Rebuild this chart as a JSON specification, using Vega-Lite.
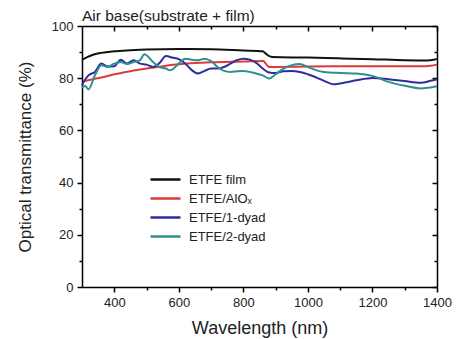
{
  "$schema": "https://vega.github.io/schema/vega-lite/v6.json",
  "width": 355,
  "height": 261,
  "autosize": "none",
  "padding": {"left": 82, "top": 26, "right": 19, "bottom": 52},
  "background": "white",
  "config": {"view": {"stroke": null}, "font": "Liberation Sans"},
  "title": {"text": "Air base(substrate + film)", "anchor": "start", "frame": "group", "font": "Liberation Sans", "fontSize": 15.5, "fontWeight": "normal", "offset": -4, "color": "#222"},
  "data": {"values": [
    {"s":"ETFE film","w":300,"t":87.1},{"s":"ETFE film","w":315,"t":88.0},{"s":"ETFE film","w":330,"t":88.8},{"s":"ETFE film","w":360,"t":89.7},{"s":"ETFE film","w":400,"t":90.3},{"s":"ETFE film","w":450,"t":90.7},{"s":"ETFE film","w":500,"t":91.0},{"s":"ETFE film","w":600,"t":91.2},{"s":"ETFE film","w":700,"t":91.1},{"s":"ETFE film","w":800,"t":90.6},{"s":"ETFE film","w":860,"t":90.3},{"s":"ETFE film","w":868,"t":89.6},{"s":"ETFE film","w":878,"t":88.6},{"s":"ETFE film","w":890,"t":88.1},{"s":"ETFE film","w":1000,"t":87.9},{"s":"ETFE film","w":1100,"t":87.6},{"s":"ETFE film","w":1200,"t":87.3},{"s":"ETFE film","w":1300,"t":86.9},{"s":"ETFE film","w":1370,"t":86.8},{"s":"ETFE film","w":1390,"t":87.1},{"s":"ETFE film","w":1400,"t":87.4},
    {"s":"ETFE/AlOₓ","w":305,"t":78.8},{"s":"ETFE/AlOₓ","w":330,"t":79.5},{"s":"ETFE/AlOₓ","w":360,"t":80.3},{"s":"ETFE/AlOₓ","w":400,"t":81.5},{"s":"ETFE/AlOₓ","w":450,"t":82.7},{"s":"ETFE/AlOₓ","w":500,"t":83.7},{"s":"ETFE/AlOₓ","w":550,"t":84.6},{"s":"ETFE/AlOₓ","w":600,"t":85.3},{"s":"ETFE/AlOₓ","w":650,"t":85.8},{"s":"ETFE/AlOₓ","w":700,"t":86.1},{"s":"ETFE/AlOₓ","w":800,"t":86.4},{"s":"ETFE/AlOₓ","w":862,"t":86.6},{"s":"ETFE/AlOₓ","w":870,"t":85.5},{"s":"ETFE/AlOₓ","w":880,"t":84.3},{"s":"ETFE/AlOₓ","w":1000,"t":84.5},{"s":"ETFE/AlOₓ","w":1200,"t":84.6},{"s":"ETFE/AlOₓ","w":1350,"t":84.6},{"s":"ETFE/AlOₓ","w":1380,"t":84.8},{"s":"ETFE/AlOₓ","w":1400,"t":85.2},
    {"s":"ETFE/1-dyad","w":300,"t":77.3},{"s":"ETFE/1-dyad","w":310,"t":79.5},{"s":"ETFE/1-dyad","w":320,"t":81.1},{"s":"ETFE/1-dyad","w":340,"t":82.4},{"s":"ETFE/1-dyad","w":360,"t":85.6},{"s":"ETFE/1-dyad","w":380,"t":84.5},{"s":"ETFE/1-dyad","w":400,"t":84.6},{"s":"ETFE/1-dyad","w":420,"t":87.1},{"s":"ETFE/1-dyad","w":440,"t":85.6},{"s":"ETFE/1-dyad","w":460,"t":86.9},{"s":"ETFE/1-dyad","w":480,"t":85.6},{"s":"ETFE/1-dyad","w":500,"t":85.2},{"s":"ETFE/1-dyad","w":520,"t":84.3},{"s":"ETFE/1-dyad","w":540,"t":85.8},{"s":"ETFE/1-dyad","w":560,"t":88.5},{"s":"ETFE/1-dyad","w":580,"t":87.9},{"s":"ETFE/1-dyad","w":600,"t":87.3},{"s":"ETFE/1-dyad","w":620,"t":85.6},{"s":"ETFE/1-dyad","w":640,"t":83.1},{"s":"ETFE/1-dyad","w":660,"t":81.8},{"s":"ETFE/1-dyad","w":680,"t":82.8},{"s":"ETFE/1-dyad","w":700,"t":83.7},{"s":"ETFE/1-dyad","w":720,"t":83.7},{"s":"ETFE/1-dyad","w":740,"t":84.3},{"s":"ETFE/1-dyad","w":760,"t":85.6},{"s":"ETFE/1-dyad","w":780,"t":86.9},{"s":"ETFE/1-dyad","w":800,"t":87.5},{"s":"ETFE/1-dyad","w":820,"t":87.1},{"s":"ETFE/1-dyad","w":840,"t":85.9},{"s":"ETFE/1-dyad","w":860,"t":83.7},{"s":"ETFE/1-dyad","w":880,"t":82.2},{"s":"ETFE/1-dyad","w":900,"t":82.0},{"s":"ETFE/1-dyad","w":925,"t":82.7},{"s":"ETFE/1-dyad","w":950,"t":82.8},{"s":"ETFE/1-dyad","w":975,"t":82.4},{"s":"ETFE/1-dyad","w":1000,"t":81.5},{"s":"ETFE/1-dyad","w":1050,"t":79.0},{"s":"ETFE/1-dyad","w":1078,"t":77.7},{"s":"ETFE/1-dyad","w":1100,"t":78.0},{"s":"ETFE/1-dyad","w":1150,"t":79.2},{"s":"ETFE/1-dyad","w":1200,"t":80.1},{"s":"ETFE/1-dyad","w":1250,"t":79.6},{"s":"ETFE/1-dyad","w":1300,"t":78.9},{"s":"ETFE/1-dyad","w":1350,"t":78.3},{"s":"ETFE/1-dyad","w":1380,"t":79.0},{"s":"ETFE/1-dyad","w":1400,"t":79.6},
    {"s":"ETFE/2-dyad","w":300,"t":76.4},{"s":"ETFE/2-dyad","w":310,"t":77.0},{"s":"ETFE/2-dyad","w":320,"t":75.7},{"s":"ETFE/2-dyad","w":340,"t":81.1},{"s":"ETFE/2-dyad","w":360,"t":85.0},{"s":"ETFE/2-dyad","w":380,"t":84.3},{"s":"ETFE/2-dyad","w":400,"t":85.6},{"s":"ETFE/2-dyad","w":420,"t":86.2},{"s":"ETFE/2-dyad","w":440,"t":85.4},{"s":"ETFE/2-dyad","w":460,"t":86.2},{"s":"ETFE/2-dyad","w":480,"t":86.9},{"s":"ETFE/2-dyad","w":493,"t":89.2},{"s":"ETFE/2-dyad","w":500,"t":88.8},{"s":"ETFE/2-dyad","w":520,"t":86.2},{"s":"ETFE/2-dyad","w":540,"t":84.3},{"s":"ETFE/2-dyad","w":560,"t":83.7},{"s":"ETFE/2-dyad","w":573,"t":83.0},{"s":"ETFE/2-dyad","w":600,"t":85.6},{"s":"ETFE/2-dyad","w":620,"t":87.5},{"s":"ETFE/2-dyad","w":640,"t":87.1},{"s":"ETFE/2-dyad","w":660,"t":86.9},{"s":"ETFE/2-dyad","w":680,"t":87.5},{"s":"ETFE/2-dyad","w":700,"t":86.6},{"s":"ETFE/2-dyad","w":720,"t":84.3},{"s":"ETFE/2-dyad","w":740,"t":82.8},{"s":"ETFE/2-dyad","w":760,"t":82.4},{"s":"ETFE/2-dyad","w":780,"t":82.7},{"s":"ETFE/2-dyad","w":800,"t":82.8},{"s":"ETFE/2-dyad","w":820,"t":82.4},{"s":"ETFE/2-dyad","w":840,"t":81.8},{"s":"ETFE/2-dyad","w":860,"t":81.1},{"s":"ETFE/2-dyad","w":880,"t":79.9},{"s":"ETFE/2-dyad","w":900,"t":81.5},{"s":"ETFE/2-dyad","w":925,"t":83.7},{"s":"ETFE/2-dyad","w":950,"t":85.0},{"s":"ETFE/2-dyad","w":975,"t":85.4},{"s":"ETFE/2-dyad","w":1000,"t":84.3},{"s":"ETFE/2-dyad","w":1027,"t":83.0},{"s":"ETFE/2-dyad","w":1050,"t":82.4},{"s":"ETFE/2-dyad","w":1100,"t":82.0},{"s":"ETFE/2-dyad","w":1150,"t":81.8},{"s":"ETFE/2-dyad","w":1200,"t":80.9},{"s":"ETFE/2-dyad","w":1250,"t":78.6},{"s":"ETFE/2-dyad","w":1300,"t":77.1},{"s":"ETFE/2-dyad","w":1350,"t":76.1},{"s":"ETFE/2-dyad","w":1380,"t":76.4},{"s":"ETFE/2-dyad","w":1400,"t":76.9}
  ]},
  "layer": [
    {
      "mark": {"type": "line", "strokeWidth": 2, "interpolate": "monotone"},
      "encoding": {
        "x": {"field": "w", "type": "quantitative",
          "scale": {"domain": [300, 1400], "nice": false, "zero": false},
          "axis": {"orient": "bottom", "values": [400,500,600,700,800,900,1000,1100,1200,1300,1400], "format": "d",
            "labelExpr": "datum.value % 200 == 0 ? datum.label : ''",
            "tickSize": {"condition": {"test": "datum.value % 200 == 0", "value": 5}, "value": 3},
            "title": "Wavelength (nm)", "titleFontSize": 18, "titleFontWeight": "normal", "titleColor": "#222", "titlePadding": 10,
            "labelFontSize": 13, "labelColor": "#222", "labelPadding": 4, "labelFlush": false, "labelOverlap": false,
            "domainColor": "#000", "domainWidth": 1.5, "tickColor": "#000", "tickWidth": 1.5, "grid": false}},
        "y": {"field": "t", "type": "quantitative",
          "scale": {"domain": [0, 100], "nice": false},
          "axis": {"orient": "left", "values": [0,10,20,30,40,50,60,70,80,90,100], "format": "d",
            "labelExpr": "datum.value % 20 == 0 ? datum.label : ''",
            "tickSize": {"condition": {"test": "datum.value % 20 == 0", "value": 5}, "value": 3},
            "title": "Optical transmittance (%)", "titleFontSize": 17, "titleFontWeight": "normal", "titleColor": "#222", "titlePadding": 17,
            "labelFontSize": 13, "labelColor": "#222", "labelPadding": 4, "labelFlush": false, "labelOverlap": false,
            "domainColor": "#000", "domainWidth": 1.5, "tickColor": "#000", "tickWidth": 1.5, "grid": false}},
        "color": {"field": "s", "type": "nominal",
          "scale": {"domain": ["ETFE film", "ETFE/AlOₓ", "ETFE/1-dyad", "ETFE/2-dyad"], "range": ["#111111", "#dd3a3a", "#2d2d9c", "#2e8f8f"]},
          "legend": {"orient": "none", "legendX": 72, "legendY": 142, "title": null, "symbolType": "M-1.5,0H1.5", "symbolSize": 400, "symbolStrokeWidth": 2.5, "symbolFillColor": "transparent",
            "labelFontSize": 13, "labelFont": "Liberation Sans", "labelColor": "#222", "labelOffset": 12, "rowPadding": -5, "padding": 0}}
      }
    },
    {
      "mark": {"type": "point", "opacity": 0},
      "encoding": {
        "x": {"datum": 300, "type": "quantitative",
          "axis": {"orient": "top", "values": [400,500,600,700,800,900,1000,1100,1200,1300,1400], "labels": false, "title": null,
            "tickSize": {"condition": {"test": "datum.value % 200 == 0", "value": -5}, "value": -3},
            "domainColor": "#000", "domainWidth": 1.5, "tickColor": "#000", "tickWidth": 1.5, "grid": false}},
        "y": {"datum": 0, "type": "quantitative",
          "axis": {"orient": "right", "values": [0,10,20,30,40,50,60,70,80,90,100], "labels": false, "title": null,
            "tickSize": {"condition": {"test": "datum.value % 20 == 0", "value": -5}, "value": -3},
            "domainColor": "#000", "domainWidth": 1.5, "tickColor": "#000", "tickWidth": 1.5, "grid": false}}
      }
    }
  ],
  "resolve": {"axis": {"x": "independent", "y": "independent"}}
}
